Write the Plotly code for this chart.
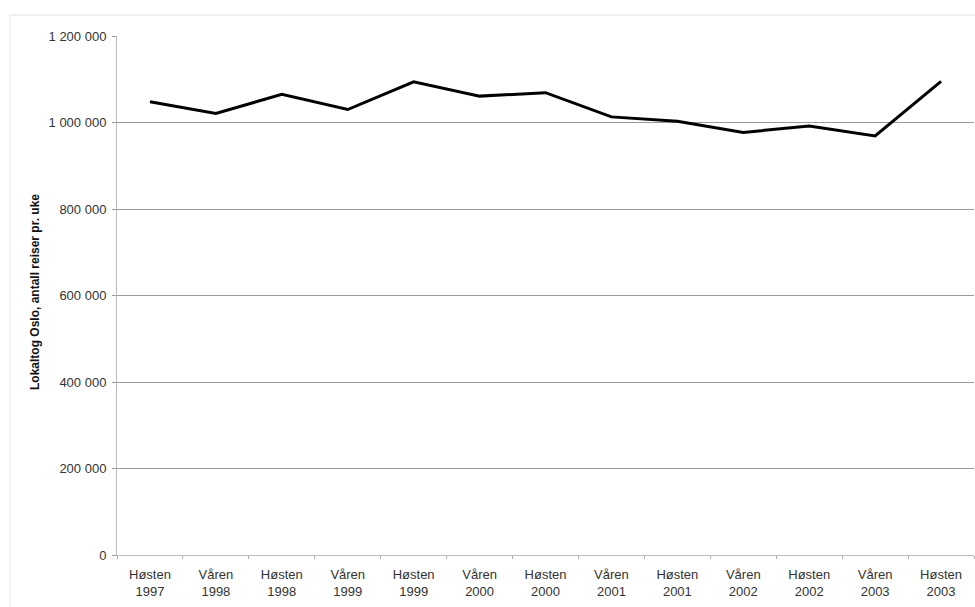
import plotly.graph_objects as go

# Weekly trips on Oslo local trains, per half-year period
periods = [
    "Høsten<br>1997", "Våren<br>1998", "Høsten<br>1998", "Våren<br>1999",
    "Høsten<br>1999", "Våren<br>2000", "Høsten<br>2000", "Våren<br>2001",
    "Høsten<br>2001", "Våren<br>2002", "Høsten<br>2002", "Våren<br>2003",
    "Høsten<br>2003",
]
trips_per_week = [
    1048000, 1021000, 1065000, 1030000, 1094000, 1061000, 1069000,
    1013000, 1003000, 977000, 992000, 969000, 1095000,
]
y_ticks = [0, 200000, 400000, 600000, 800000, 1000000, 1200000]

font_family = "Liberation Sans, Arial, sans-serif"

fig = go.Figure(
    go.Scatter(
        x=periods,
        y=trips_per_week,
        mode="lines",
        line=dict(color="#000000", width=3),
        showlegend=False,
    )
)

fig.update_layout(
    width=975,
    height=607,
    margin=dict(l=117, r=1, t=36, b=52),
    paper_bgcolor="white",
    plot_bgcolor="white",
    separators=", ",
    font=dict(family=font_family, size=13, color="#333333"),
    xaxis=dict(
        type="category",
        tickson="boundaries",
        ticks="outside",
        ticklen=3,
        tickcolor="#aaaaaa",
        showline=True,
        linecolor="#bbbbbb",
        linewidth=1,
        showgrid=False,
        tickfont=dict(size=13, color="#333333"),
        ticklabelstandoff=7,
        range=[-0.5, len(periods) - 0.5],
    ),
    yaxis=dict(
        range=[0, 1200000],
        tickvals=y_ticks,
        tickformat=",d",
        ticks="outside",
        ticklen=4,
        tickcolor="#999999",
        showline=True,
        linecolor="#bbbbbb",
        linewidth=1,
        showgrid=True,
        gridcolor="#9a9a9a",
        gridwidth=1,
        zeroline=False,
        tickfont=dict(size=13, color="#333333"),
        ticklabelstandoff=3,
    ),
    annotations=[
        dict(
            text="<b>Lokaltog Oslo, antall reiser pr. uke</b>",
            xref="paper", yref="paper",
            x=-0.106, y=0.507,
            textangle=-90,
            showarrow=False,
            font=dict(size=12, color="#111111", family=font_family),
        )
    ],
    shapes=[
        # faint chart-area frame
        dict(type="line", xref="paper", yref="paper",
             x0=-0.125, x1=1.002, y0=1.0405, y1=1.0405,
             line=dict(color="#e2e2e2", width=1)),
        dict(type="line", xref="paper", yref="paper",
             x0=-0.125, x1=-0.125, y0=1.0405, y1=-0.1,
             line=dict(color="#e8e8e8", width=1)),
    ],
)

fig.write_html("out.html")
